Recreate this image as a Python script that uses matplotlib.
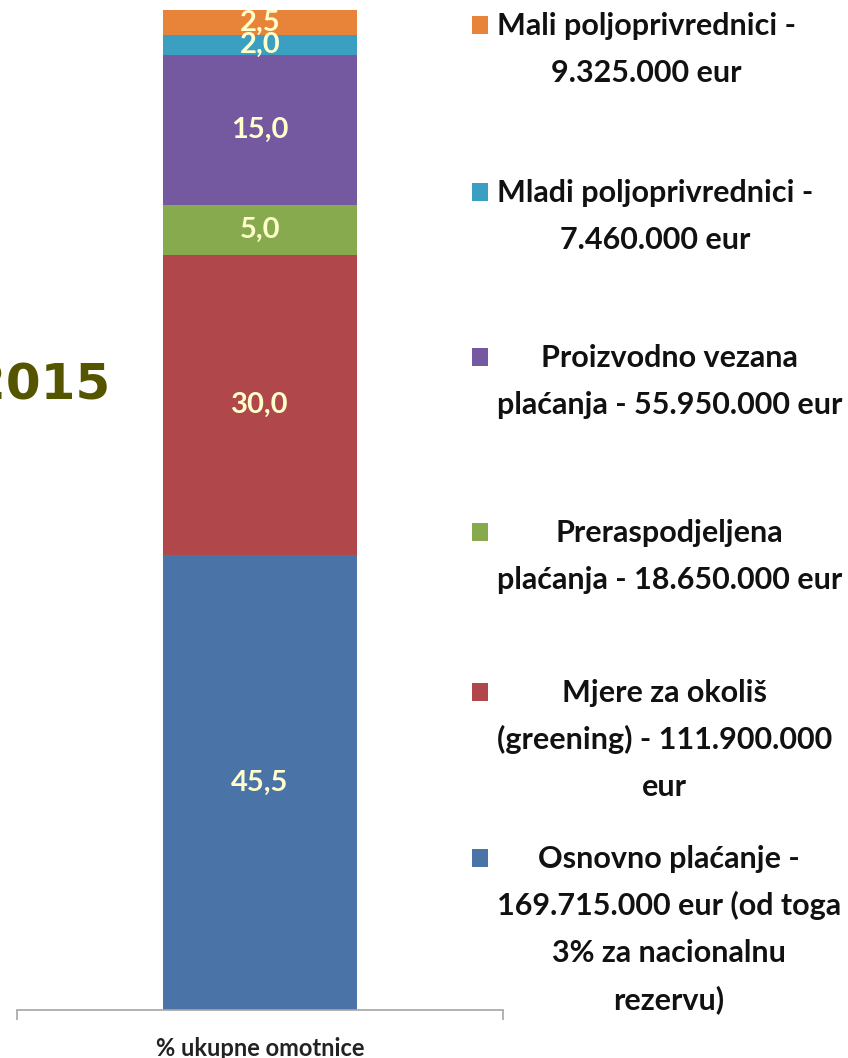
import matplotlib
matplotlib.use("Agg")
import matplotlib.pyplot as plt
from matplotlib.patches import Rectangle

# ---- data ----
categories = ["% ukupne omotnice"]
series_names = [
    "Osnovno plaćanje -\n169.715.000 eur (od toga\n3% za nacionalnu\nrezervu)",
    "Mjere za okoliš\n(greening) - 111.900.000\neur",
    "Preraspodjeljena\nplaćanja - 18.650.000 eur",
    "Proizvodno vezana\nplaćanja - 55.950.000 eur",
    "Mladi poljoprivrednici -\n7.460.000 eur",
    "Mali poljoprivrednici -\n9.325.000 eur",
]
values = [45.5, 30.0, 5.0, 15.0, 2.0, 2.5]
value_labels = ["45,5", "30,0", "5,0", "15,0", "2,0", "2,5"]
colors = ["#4a73a8", "#b0474a", "#88aa4e", "#7458a0", "#3a9fc0", "#e8843a"]
year_label = "2015"

W, H = 848, 1058
fig = plt.figure(figsize=(W / 100, H / 100), dpi=100)
fig.patch.set_facecolor("white")

fam = ["Lato", "DejaVu Sans"]

ax = fig.add_axes([17 / W, 48 / H, 486 / W, 1000 / H])
bottom = 0.0
for v, c, lab in zip(values, colors, value_labels):
    ax.bar(0, v, width=0.5, bottom=bottom, color=c, edgecolor="none")
    ax.text(0, bottom + v / 2, lab, ha="center", va="center", color="#ffffcc",
            fontsize=21, fontweight="bold", family=fam)
    bottom += v
ax.set_xlim(-0.626, 0.626)
ax.set_ylim(0, 100)
for s in ["left", "right", "top"]:
    ax.spines[s].set_visible(False)
ax.spines["bottom"].set_color("#a6a6a6")
ax.spines["bottom"].set_linewidth(1.2)
ax.set_yticks([])
ax.set_xticks([-0.626, 0.626])
ax.set_xticklabels(["", ""])
ax.tick_params(axis="x", direction="out", length=7, color="#a6a6a6", width=1.2)
ax.text(0.5, -38 / 1000, categories[0], transform=ax.transAxes, ha="center",
        va="center", fontsize=17, fontweight="bold", family=fam, color="#222222")

# year label
fig.text(110 / W, 1 - 381 / H, year_label, ha="right", va="center_baseline",
         fontsize=36, fontweight="bold", color="#555500", family=["DejaVu Sans"])

# legend (top entry first)
baselines = [868, 702, 542, 367, 202, 35]
line_step = 47
text_left = 497
fs = 22
renderer = fig.canvas.get_renderer()
for name, c, yb in zip(series_names, colors, baselines):
    fig.patches.append(Rectangle((472 / W, 1 - (yb - 1) / H), 16 / W, 18 / H,
                                 transform=fig.transFigure, facecolor=c,
                                 edgecolor="none"))
    lines = name.split("\n")
    # measure widths to centre lines within the block
    widths = []
    for ln in lines:
        t = fig.text(0, 0, ln, fontsize=fs, fontweight="bold", family=fam)
        widths.append(t.get_window_extent(renderer).width)
        t.remove()
    cx = text_left + max(widths) / 2
    for i, ln in enumerate(lines):
        fig.text(cx / W, 1 - (yb + i * line_step) / H, ln, ha="center",
                 va="baseline", fontsize=fs, fontweight="bold", family=fam,
                 color="#111111")

fig.savefig("out.png", dpi=100, facecolor="white")
